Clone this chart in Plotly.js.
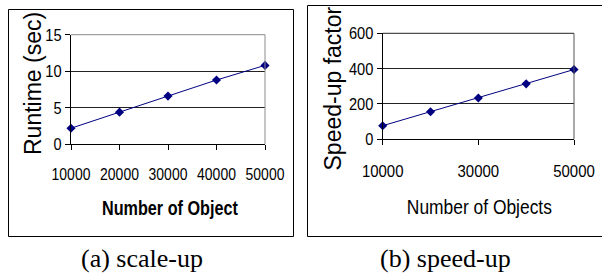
<!DOCTYPE html>
<html>
<head>
<meta charset="utf-8">
<script src="https://cdn.plot.ly/plotly-3.0.1.min.js"></script>
<style>html,body{margin:0;padding:0;background:#fff;}#chart{width:602px;height:276px;}</style>
</head>
<body>
<div id="chart"></div>
<script>
// ---- data ----
const objects = [10000, 20000, 30000, 40000, 50000];
const runtimeSec = [2.2, 4.4, 6.6, 8.8, 10.8];
const speedupFactor = [77, 156, 234, 314, 395];
const yTicksRuntime = [0, 5, 10, 15];
const yTicksSpeedup = [0, 200, 400, 600];
const xTicksLeft = [10000, 20000, 30000, 40000, 50000];
const xTicksRight = [10000, 30000, 50000];

const W = 602, H = 276;
const px = x => x / W;
const py = y => 1 - y / H;

const SANS = '"Liberation Sans", Arial, sans-serif';
const SERIF = '"Liberation Serif", "Times New Roman", serif';
const NAVY = '#000080';

const traces = [
  {x: objects, y: runtimeSec, xaxis: 'x', yaxis: 'y', type: 'scatter', mode: 'lines+markers',
   line: {color: NAVY, width: 1}, marker: {symbol: 'diamond', size: 7, color: NAVY}, cliponaxis: false},
  {x: objects, y: speedupFactor, xaxis: 'x2', yaxis: 'y2', type: 'scatter', mode: 'lines+markers',
   line: {color: NAVY, width: 1}, marker: {symbol: 'diamond', size: 7, color: NAVY}, cliponaxis: false}
];

const xCommon = {
  showline: true, linecolor: '#000', linewidth: 1, ticks: 'outside', ticklen: 5, tickcolor: '#000',
  showgrid: false, zeroline: false, tickfont: {family: SANS, size: 17, color: '#000'},
  tickangle: 0, ticklabelstandoff: 12, fixedrange: true
};
const yCommon = {
  showline: true, linecolor: '#000', linewidth: 1, ticks: 'outside', ticklen: 5, tickcolor: '#000',
  showgrid: true, gridcolor: '#222', gridwidth: 1, zeroline: false,
  tickfont: {family: SANS, size: 17, color: '#000'}, fixedrange: true
};

const layout = {
  width: W, height: H,
  margin: {l: 0, r: 0, t: 0, b: 0, pad: 0},
  paper_bgcolor: '#fff', plot_bgcolor: '#fff',
  showlegend: false,
  xaxis: Object.assign({}, xCommon, {domain: [px(71), px(265)], range: [10000, 50000],
    tickvals: xTicksLeft, ticktext: xTicksLeft.map(String), anchor: 'y', ticklabelstandoff: 9}),
  yaxis: Object.assign({}, yCommon, {domain: [py(144.3), py(34.7)], range: [0, 15],
    tickvals: yTicksRuntime, anchor: 'x'}),
  xaxis2: Object.assign({}, xCommon, {domain: [px(382.7), px(574)], range: [10000, 50000],
    tickvals: xTicksRight, ticktext: xTicksRight.map(String), anchor: 'y2', ticklabelstandoff: 11}),
  yaxis2: Object.assign({}, yCommon, {domain: [py(139.3), py(33.3)], range: [0, 600],
    tickvals: yTicksSpeedup, anchor: 'x2'}),
  shapes: [
    {type: 'rect', xref: 'paper', yref: 'paper', x0: px(8.5), x1: px(293.5), y0: py(236.5), y1: py(9.5),
     line: {color: '#000', width: 1}},
    {type: 'rect', xref: 'paper', yref: 'paper', x0: px(307.5), x1: px(606), y0: py(236.5), y1: py(5.5),
     line: {color: '#000', width: 1}},
    {type: 'line', xref: 'x domain', yref: 'y domain', x0: 0, x1: 1, y0: 1, y1: 1, line: {color: '#8c8c8c', width: 1}},
    {type: 'line', xref: 'x domain', yref: 'y domain', x0: 1, x1: 1, y0: 0, y1: 1, line: {color: '#8c8c8c', width: 1}},
    {type: 'line', xref: 'x2 domain', yref: 'y2 domain', x0: 0, x1: 1, y0: 1, y1: 1, line: {color: '#222', width: 1}},
    {type: 'line', xref: 'x2 domain', yref: 'y2 domain', x0: 1, x1: 1, y0: 0, y1: 1, line: {color: '#555', width: 1}}
  ],
  annotations: [
    {text: 'Runtime (sec)', xref: 'paper', yref: 'paper', x: px(33), y: py(84), textangle: -90,
     xanchor: 'center', yanchor: 'middle', showarrow: false, font: {family: SANS, size: 23, color: '#000'}},
    {text: 'Speed-up factor', xref: 'paper', yref: 'paper', x: px(332.5), y: py(89), textangle: -90,
     xanchor: 'center', yanchor: 'middle', showarrow: false, font: {family: SANS, size: 23, color: '#000'}},
    {text: '<b>Number of Object</b>', xref: 'paper', yref: 'paper', x: px(169.5), y: py(208),
     xanchor: 'center', yanchor: 'middle', showarrow: false, font: {family: SANS, size: 20, color: '#000'}},
    {text: 'Number of Objects', xref: 'paper', yref: 'paper', x: px(479.5), y: py(207),
     xanchor: 'center', yanchor: 'middle', showarrow: false, font: {family: SANS, size: 20, color: '#000'}},
    {text: '(a) scale-up', xref: 'paper', yref: 'paper', x: px(141.5), y: py(258),
     xanchor: 'center', yanchor: 'middle', showarrow: false, font: {family: SERIF, size: 26, color: '#000'}},
    {text: '(b) speed-up', xref: 'paper', yref: 'paper', x: px(445), y: py(258),
     xanchor: 'center', yanchor: 'middle', showarrow: false, font: {family: SERIF, size: 26, color: '#000'}}
  ]
};

// condense text horizontally (the original uses a narrow face)
function condense(el, factor) {
  const w = el.getComputedTextLength();
  if (w > 0) {
    el.setAttribute('textLength', (w * factor).toFixed(1));
    el.setAttribute('lengthAdjust', 'spacingAndGlyphs');
  }
}

Plotly.newPlot('chart', traces, layout, {staticPlot: true, displayModeBar: false}).then(gd => {
  gd.querySelectorAll('.xaxislayer-above .xtick text').forEach(t => condense(t, 0.82));
  gd.querySelectorAll('.xaxislayer-above .x2tick text').forEach(t => condense(t, 0.88));
  gd.querySelectorAll('.yaxislayer-above .ytick text, .yaxislayer-above .y2tick text').forEach(t => condense(t, 0.86));
  gd.querySelectorAll('.annotation-text').forEach(t => {
    const s = t.textContent;
    if (s === 'Number of Object') condense(t, 0.81);
    else if (s === 'Number of Objects') condense(t, 0.87);
  });
});
</script>
</body>
</html>
